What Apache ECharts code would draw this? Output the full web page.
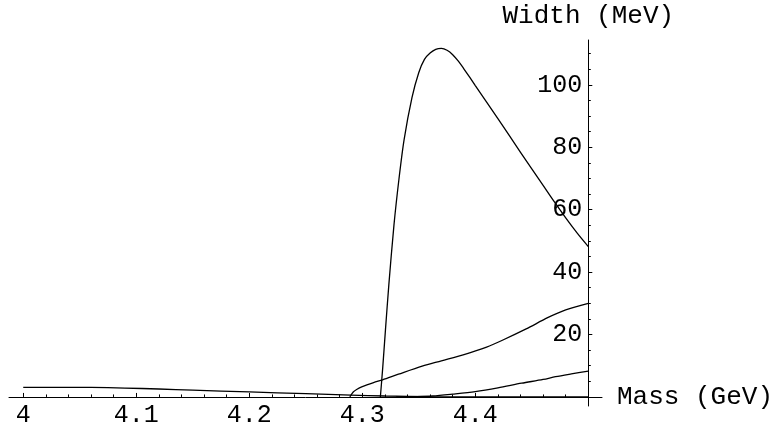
<!DOCTYPE html>
<html>
<head>
<meta charset="utf-8">
<title>Width vs Mass</title>
<script src="https://cdn.jsdelivr.net/npm/echarts@6/dist/echarts.min.js"></script>
<style>
    html, body { margin: 0; padding: 0; background: #fff; }
    #chart { width: 776px; height: 424px; }
</style>
</head>
<body>
<div id="chart"></div>
<script>
// curve 1: small width falling to zero near threshold
var massA  = [4.0, 4.03, 4.06, 4.09, 4.12, 4.15, 4.2, 4.25, 4.29, 4.32, 4.36, 4.4, 4.45, 4.5];
var widthA = [3.05, 3.1, 3.05, 2.85, 2.55, 2.2, 1.6, 1.05, 0.6, 0.3, 0.1, 0.03, 0.01, 0];
// curve 2: opens at ~4.29
var massB  = [4.289, 4.292, 4.295, 4.3, 4.31, 4.318, 4.332, 4.353, 4.37, 4.39, 4.41, 4.4235, 4.445, 4.464, 4.48, 4.5];
var widthB = [0, 1.6, 2.4, 3.3, 4.6, 5.5, 7.3, 9.9, 11.6, 13.6, 16.0, 18.1, 21.8, 25.4, 27.9, 30.0];
// curve 3: opens at ~4.33, slow rise
var massC  = [4.33, 4.345, 4.362, 4.38, 4.4, 4.42, 4.441, 4.46, 4.471, 4.485, 4.5];
var widthC = [0, 0.1, 0.3, 0.9, 1.7, 2.9, 4.4, 5.6, 6.5, 7.4, 8.3];
// curve 4: big peak
var massD  = [4.316, 4.318, 4.3205, 4.3235, 4.328, 4.3325, 4.337, 4.344, 4.35, 4.355, 4.36, 4.365,
              4.37, 4.375, 4.38, 4.385, 4.39, 4.395, 4.4, 4.42, 4.44, 4.46, 4.47, 4.48, 4.49, 4.5];
var widthD = [0, 9, 21.5, 36, 55, 70, 82.5, 96, 104, 108.2, 110.2, 111.4,
              111.7, 111.1, 109.7, 107.6, 105.1, 102.5, 99.8, 89.2, 78.4, 67.8, 62.5, 57.4, 52.6, 48.2];

var xMajorTicks = [4, 4.1, 4.2, 4.3, 4.4, 4.5];
var xTickLabels = [4, 4.1, 4.2, 4.3, 4.4];
var xMinorTicks = [4.02, 4.04, 4.06, 4.08, 4.12, 4.14, 4.16, 4.18, 4.22, 4.24, 4.26, 4.28,
                   4.32, 4.34, 4.36, 4.38, 4.42, 4.44, 4.46, 4.48];
var yMajorTicks = [0, 20, 40, 60, 80, 100];
var yTickLabels = [20, 40, 60, 80, 100];
var yMinorTicks = [5, 10, 15, 25, 30, 35, 45, 50, 55, 65, 70, 75, 85, 90, 95, 105, 110];

function pairs(xs, ys) {
    return xs.map(function (x, i) { return [x, ys[i]]; });
}

var font = "'Liberation Mono', 'DejaVu Sans Mono', monospace";
var xMin = 3.9874, xMax = 4.5121;
var yMin = -2.9, yMax = 114.4;

var myChart = echarts.init(document.getElementById('chart'));

function curve(xs, ys) {
    return {
        type: 'line',
        data: pairs(xs, ys),
        showSymbol: false,
        smooth: 0.3,
        lineStyle: { color: '#000', width: 1.3 },
        animation: false
    };
}

myChart.setOption({
    animation: false,
    grid: { left: 9, top: 40, width: 593, height: 366, outerBoundsMode: 'none' },
    xAxis: [
        {
            type: 'value', min: xMin, max: xMax,
            name: 'Mass (GeV)', nameLocation: 'end', nameGap: 15,
            nameTextStyle: { fontFamily: font, fontSize: 26, color: '#000' },
            axisLine: { onZero: true, lineStyle: { color: '#000', width: 1 } },
            axisTick: { customValues: xMajorTicks, inside: true, length: 4, lineStyle: { color: '#000' } },
            axisLabel: { customValues: xTickLabels, margin: -3, fontFamily: font, fontSize: 25, color: '#000' },
            splitLine: { show: false }
        },
        {   // minor ticks
            type: 'value', min: xMin, max: xMax, position: 'bottom',
            axisLine: { show: false, onZero: true },
            axisTick: { customValues: xMinorTicks, inside: true, length: 2.5, lineStyle: { color: '#000' } },
            axisLabel: { show: false },
            splitLine: { show: false }
        }
    ],
    yAxis: [
        {
            type: 'value', min: yMin, max: yMax, position: 'right', offset: -13.7,
            name: 'Width (MeV)', nameLocation: 'end', nameGap: 11,
            nameTextStyle: { fontFamily: font, fontSize: 26, color: '#000' },
            axisLine: { show: true, onZero: false, lineStyle: { color: '#000', width: 1 } },
            axisTick: { customValues: yMajorTicks, length: 4, lineStyle: { color: '#000' } },
            axisLabel: { customValues: yTickLabels, inside: true, margin: 6, fontFamily: font, fontSize: 25, color: '#000' },
            splitLine: { show: false }
        },
        {   // minor ticks
            type: 'value', min: yMin, max: yMax, position: 'right', offset: -13.7,
            axisLine: { show: false, onZero: false },
            axisTick: { customValues: yMinorTicks, length: 2.5, lineStyle: { color: '#000' } },
            axisLabel: { show: false },
            splitLine: { show: false }
        }
    ],
    series: [
        curve(massA, widthA),
        curve(massB, widthB),
        curve(massC, widthC),
        curve(massD, widthD)
    ]
});
</script>
</body>
</html>
